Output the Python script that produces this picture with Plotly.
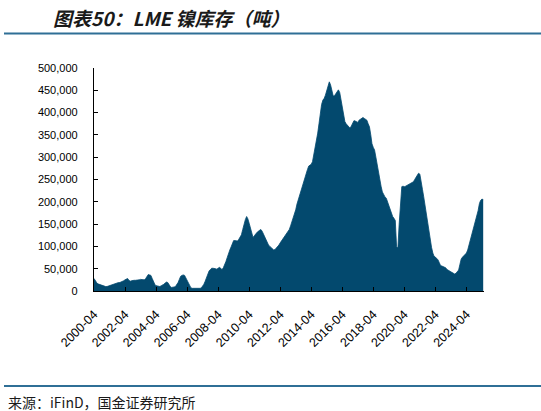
import plotly.graph_objects as go

# LME nickel stocks (thousand tonnes), monthly, starting 2000-04
start_year, start_month = 2000, 4
stocks_k = [
    # 2000 Apr-Dec
    28, 22, 19, 16, 15, 13, 12, 11, 10,
    # 2001
    10, 10, 11, 11, 12, 14, 15, 16, 17, 18, 19, 19,
    # 2002
    20, 21, 23, 25, 27, 28, 24, 22, 23, 24, 24, 24,
    # 2003
    24, 25, 25, 26, 26, 25, 25, 28, 32, 37, 36, 35,
    # 2004
    28, 20, 15, 12, 11, 10, 10, 12, 13, 15, 18, 20,
    # 2005
    19, 12, 10, 8, 8, 9, 10, 14, 19, 26, 33, 35,
    # 2006
    36, 35, 30, 24, 17, 10, 7, 6, 6, 6, 5, 5,
    # 2007
    5, 6, 7, 10, 15, 22, 30, 37, 45, 48, 51, 51,
    # 2008
    51, 50, 49, 51, 53, 51, 48, 52, 58, 66, 75, 85,
    # 2009
    92, 99, 106, 113, 113, 112, 112, 116, 121, 126, 138, 152,
    # 2010
    160, 167, 162, 152, 140, 126, 120, 124, 129, 131, 134, 137,
    # 2011
    138, 134, 128, 121, 114, 108, 103, 100, 97, 94, 92, 93,
    # 2012
    96, 99, 103, 108, 112, 116, 120, 125, 129, 133, 138, 146,
    # 2013
    155, 163, 172, 182, 195, 205, 215, 226, 236, 248, 258, 264,
    # 2014
    272, 280, 283, 284, 290, 305, 318, 336, 354, 375, 400, 418,
    # 2015
    428, 432, 439, 450, 464, 469, 462, 448, 437, 438, 442, 446,
    # 2016
    451, 445, 430, 410, 390, 380, 375, 372, 369, 365, 370, 378,
    # 2017
    382, 381, 380, 378, 383, 385, 387, 389, 387, 385, 383, 375,
    # 2018
    368, 350, 330, 322, 316, 300, 282, 265, 248, 235, 222, 215,
    # 2019
    211, 208, 200, 189, 182, 172, 167, 163, 158, 100, 96, 150,
    # 2020
    195, 234, 235, 234, 235, 237, 238, 240, 241, 243, 245, 250,
    # 2021
    254, 258, 264, 262, 241, 228, 211, 192, 174, 155, 133, 112,
    # 2022
    98, 85, 78, 76, 73, 70, 64, 57, 56, 55, 54, 52,
    # 2023
    48, 47, 45, 43, 41, 39, 38, 40, 44, 47, 60, 72,
    # 2024
    76, 80, 82, 85, 92, 103, 114, 124, 135, 144, 155, 168,
    # 2025 Jan-May
    180, 196, 203, 206, 205,
]

tick_labels = ["2000-04", "2002-04", "2004-04", "2006-04", "2008-04", "2010-04",
               "2012-04", "2014-04", "2016-04", "2018-04", "2020-04", "2022-04",
               "2024-04"]

title_text = "图表50：LME 镍库存（吨）"
source_text = "来源：iFinD，国金证券研究所"

dates = []
y, m = start_year, start_month
for _ in stocks_k:
    dates.append(f"{y:04d}-{m:02d}-01")
    m += 1
    if m > 12:
        m = 1
        y += 1
values = [v * 1000 for v in stocks_k]

W, H = 541, 411
L, R, T, B = 94, 57, 68, 120
pw, ph = W - L - R, H - T - B


def px(xp):
    return (xp - L) / pw


def py(yp):
    return (H - B - yp) / ph


fig = go.Figure()
fig.add_trace(go.Scatter(
    x=dates, y=values, mode="lines", fill="tozeroy",
    line=dict(color="#03496e", width=0.8), fillcolor="#03496e",
    hoverinfo="skip", showlegend=False,
))

y_font = dict(family="Liberation Sans, Arial, sans-serif", size=11, color="#000000")
x_font = dict(family="Liberation Sans, Arial, sans-serif", size=12.5, color="#000000")

fig.update_layout(
    width=W, height=H,
    margin=dict(l=L, r=R, t=T, b=B, pad=0, autoexpand=False),
    paper_bgcolor="white", plot_bgcolor="white",
    showlegend=False,
    xaxis=dict(
        type="date",
        range=["2000-04-01", "2025-05-20"],
        tickvals=[f"{lab}-01" for lab in tick_labels],
        ticktext=tick_labels,
        tickangle=-45,
        ticks="inside", ticklen=4, tickcolor="#000000", tickwidth=1,
        ticklabelstandoff=10,
        showline=True, linecolor="#000000", linewidth=1.3,
        showgrid=False, zeroline=False, automargin=False,
        tickfont=x_font,
    ),
    yaxis=dict(
        range=[0, 500000], dtick=50000, tick0=0,
        tickformat=",d",
        ticks="inside", ticklen=4, tickcolor="#000000", tickwidth=1,
        ticklabelstandoff=13,
        showline=True, linecolor="#000000", linewidth=1.3,
        showgrid=False, zeroline=False, automargin=False,
        tickfont=y_font,
    ),
    shapes=[
        dict(type="line", xref="paper", yref="paper",
             x0=px(4), x1=px(541), y0=py(33.5), y1=py(33.5),
             line=dict(color="#2f6f96", width=2)),
        dict(type="line", xref="paper", yref="paper",
             x0=px(4), x1=px(541), y0=py(386), y1=py(386),
             line=dict(color="#2f6f96", width=2)),
    ],
    annotations=[
        dict(text=f"<b><i>{title_text}</i></b>", xref="paper", yref="paper",
             x=px(51), y=py(17), xanchor="left", yanchor="middle",
             showarrow=False,
             font=dict(family="Noto Sans CJK SC, sans-serif", size=19, color="#1a1a1a")),
        dict(text=source_text, xref="paper", yref="paper",
             x=px(6), y=py(402), xanchor="left", yanchor="middle",
             showarrow=False,
             font=dict(family="Noto Sans CJK SC, sans-serif", size=14, color="#1a1a1a")),
    ],
)

fig.write_html("out.html", config={"displayModeBar": False},
               post_script="document.body.style.margin='0';")
